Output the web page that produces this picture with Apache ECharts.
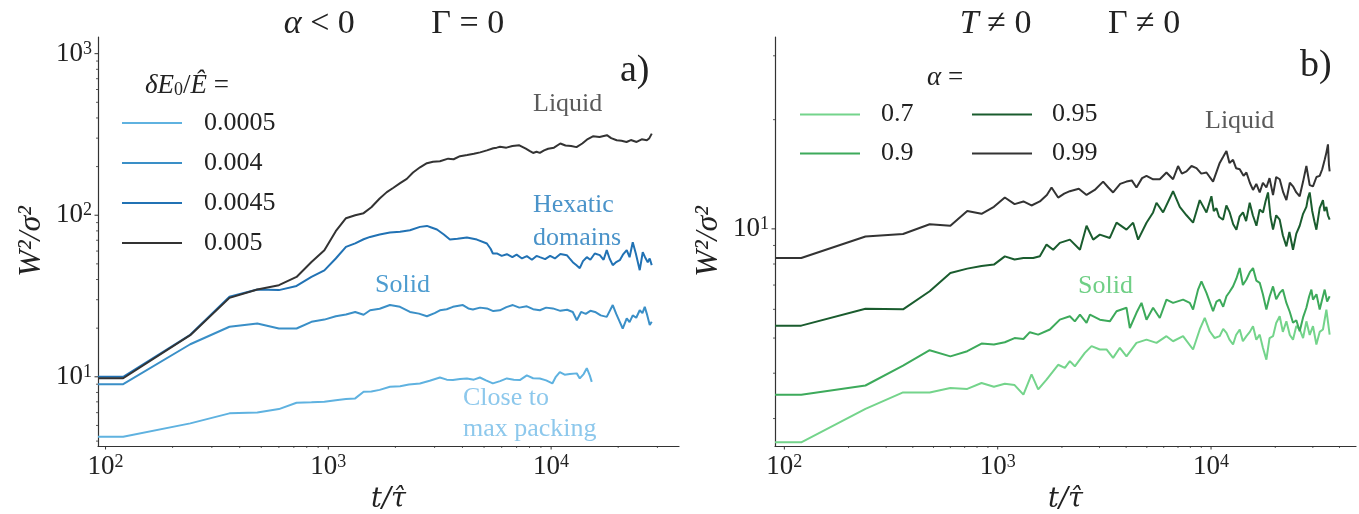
<!DOCTYPE html>
<html>
<head>
<meta charset="utf-8">
<script src="https://cdn.jsdelivr.net/npm/echarts@6/dist/echarts.min.js"></script>
<style>
  html, body { margin: 0; padding: 0; background: #fff; }
  #chart { width: 1359px; height: 514px; }
</style>
</head>
<body>
<div id="chart"></div>
<script>
var serif = '"Liberation Serif", "DejaVu Serif", serif'

// panel a) alpha < 0, Gamma = 0 : [t, W^2/sigma^2]
var namesA = ['0.0005', '0.004', '0.0045', '0.005']
var closePacking = [[92.5,4.26],[120,4.26],[240,5.15],[360,5.94],[480,6.02],[600,6.31],[720,6.91],[840,6.95],[960,7.0],[1080,7.15],[1200,7.28],[1320,7.35],[1440,8.08],[1560,8.1],[1700,8.3],[1891,8.67],[2100,8.75],[2300,8.95],[2577,9.1],[2850,9.45],[3169,9.9],[3400,9.6],[3624,9.54],[3900,9.7],[4188,9.77],[4500,9.6],[4790,9.9],[5100,9.5],[5477,9.1],[5900,9.4],[6328,9.77],[6800,9.6],[7237,9.54],[7780,10.2],[8300,9.8],[8899,9.77],[9500,9.5],[10130,9.1],[10500,10.0],[10940,10.7],[11500,10.3],[12130,10.4],[13040,10.5],[13450,9.77],[14000,10.4],[14460,11.3],[14910,10.2],[15220,9.3]]
var solidA = [[92.5,9.0],[120,9.0],[240,15.9],[360,20.4],[480,21.4],[600,19.9],[720,19.9],[840,21.9],[960,22.6],[1080,23.7],[1200,24.3],[1320,25.2],[1440,24.2],[1540,25.8],[1700,26.4],[1890,27.8],[2097,27.1],[2325,25.2],[2550,24.6],[2771,23.7],[3000,24.8],[3169,25.8],[3400,26.2],[3624,27.1],[4018,27.8],[4250,26.5],[4456,26.1],[4800,26.8],[5149,26.5],[5500,25.5],[5888,25.8],[6300,27.0],[6733,27.8],[7200,26.8],[7780,27.3],[8300,26.2],[8899,25.8],[9500,26.8],[10180,26.5],[11000,25.6],[11800,26.0],[12510,25.2],[13040,22.4],[13630,25.2],[14300,24.5],[15000,25.6],[15750,25.2],[16700,24.0],[17770,23.5],[18910,27.8],[19600,24.5],[20330,21.9],[20960,19.9],[21850,23.0],[22500,21.8],[23250,24.0],[24100,23.2],[24990,25.8],[25700,24.8],[26320,27.1],[26860,24.7],[27710,20.9],[28290,21.9]]
var hexatic = [[92.5,10.0],[120,10.0],[240,18.2],[360,31.3],[480,34.7],[600,34.4],[720,36.5],[840,41.5],[960,45.6],[1080,54],[1200,63.7],[1320,67],[1440,71],[1540,73.4],[1700,76],[1890,78.2],[2100,79],[2325,80.8],[2577,84.7],[2771,85.9],[2900,84],[3073,81.6],[3300,76],[3513,70.7],[3800,71.5],[4188,72.8],[4644,70.7],[5149,66.8],[5350,62],[5477,58.0],[5708,58.0],[6000,56],[6328,57.4],[6700,55],[7000,57],[7400,54],[7780,55.8],[8200,53],[8600,56],[8899,55.0],[9400,53.5],[9900,56],[10400,54],[11000,57.5],[11760,56.6],[12100,54],[12510,51.2],[13000,49],[13450,47.0],[13900,52],[14460,55.0],[15000,53],[15700,58],[16540,56.6],[17200,53],[17770,60.8],[18300,54],[18910,49.1],[19500,51],[20330,52.7],[21000,57],[21850,60.8],[22500,55],[23250,68.1],[24000,58],[24990,45.7],[25780,59.0],[26400,55],[27150,51.2],[27700,54],[28290,49.1]]
var liquidA = [[92.5,9.8],[120,9.8],[240,18.1],[360,30.8],[480,34.7],[600,36.9],[720,41.5],[840,51.4],[960,60.8],[1080,79.6],[1200,95.8],[1320,100],[1440,103],[1560,112],[1700,127],[1830,139],[1960,148],[2100,158],[2250,168],[2400,184],[2580,198],[2770,210],[2950,214],[3170,216],[3450,224],[3650,222],[3900,232],[4200,236],[4500,240],[4800,245],[5150,252],[5500,260],[5700,262],[5900,265],[6300,262],[6700,268],[7200,271],[7700,258],[8000,250],[8300,243],[8600,247],[8900,243],[9300,252],[9700,258],[10300,262],[11000,278],[11600,270],[12300,268],[13000,264],[13800,278],[14600,296],[15400,308],[16500,305],[17800,313],[18600,300],[19700,291],[20700,289],[21800,284],[22800,292],[24200,284],[25500,295],[26900,291],[27600,300],[28300,320]]

// panel b) T != 0, Gamma != 0
var namesB = ['0.7', '0.9', '0.95', '0.99']
var alpha07 = [[90.4,2.58],[120,2.58],[240,3.19],[360,3.54],[480,3.54],[600,3.64],[720,3.62],[840,3.76],[960,3.67],[1080,3.74],[1200,3.71],[1320,3.49],[1441,3.97],[1548,3.61],[1694,3.84],[1920,4.22],[2064,4.14],[2179,4.32],[2299,4.18],[2561,4.55],[2754,4.75],[3011,4.65],[3236,4.65],[3475,4.41],[3737,4.70],[4015,4.45],[4472,4.85],[4983,4.95],[5550,4.85],[6181,5.06],[6637,4.90],[7393,5.06],[8236,4.65],[8852,5.28],[9343,5.68],[9860,5.22],[10400,5.0],[10980,5.06],[11400,5.3],[11810,5.17],[12200,4.95],[12680,4.80],[13100,5.1],[13630,5.28],[14100,4.9],[14650,5.06],[15200,5.2],[15730,5.39],[16300,4.95],[16910,5.11],[17500,4.7],[18170,4.36],[18800,5.0],[19520,5.06],[20200,5.5],[20980,5.74],[21700,5.2],[22550,5.56],[23400,5.1],[24220,4.95],[25100,5.4],[26030,5.28],[27000,5.0],[27980,5.56],[29000,5.1],[30050,5.39],[31170,4.80],[32300,5.2],[33460,5.28],[34720,5.99],[35970,5.11]]
var alpha09 = [[90.4,3.49],[120,3.49],[240,3.70],[360,4.20],[480,4.63],[600,4.45],[720,4.60],[840,4.83],[960,4.80],[1080,4.87],[1200,5.00],[1320,4.97],[1415,5.19],[1548,5.11],[1756,5.28],[1956,5.62],[2179,5.74],[2299,5.56],[2430,5.80],[2609,5.51],[2706,5.80],[3011,5.62],[3354,5.56],[3606,5.93],[4015,6.06],[4163,5.33],[4472,5.87],[4721,6.25],[4983,5.62],[5350,6.06],[5751,5.68],[6181,6.38],[6637,6.25],[7393,6.38],[7950,6.25],[8236,5.99],[8691,6.80],[9016,7.17],[9517,6.66],[10220,5.93],[10600,6.3],[10980,6.38],[11400,6.1],[11810,6.52],[12200,6.7],[12680,6.94],[13150,7.3],[13630,7.80],[14100,7.0],[14650,7.25],[15200,7.6],[15730,7.80],[16300,7.2],[16910,7.10],[17500,6.6],[18170,5.99],[18800,6.5],[19520,6.94],[20200,6.4],[20980,6.66],[21700,6.8],[22550,6.25],[23400,5.9],[24220,5.51],[25100,5.6],[26030,5.22],[27000,5.7],[27980,6.06],[28800,6.5],[29530,6.80],[30050,6.38],[31200,6.6],[32300,5.99],[33200,6.4],[34090,6.80],[35000,6.3],[35970,6.52]]
var alpha095 = [[90.4,5.41],[120,5.41],[240,6.02],[360,6.0],[480,6.73],[600,7.56],[720,7.77],[840,7.9],[960,7.97],[1080,8.40],[1200,8.23],[1320,8.31],[1467,8.31],[1576,8.40],[1694,9.05],[1820,8.76],[1956,9.15],[2179,9.34],[2430,8.76],[2609,10.2],[2802,9.34],[3011,9.64],[3354,9.44],[3606,10.4],[4015,9.95],[4313,10.4],[4552,9.34],[4983,10.4],[5350,11.1],[5550,11.8],[5960,11.1],[6637,12.7],[7135,11.5],[7672,10.9],[8236,10.4],[8852,12.0],[9517,11.1],[10040,12.3],[10300,11.2],[10600,11.4],[10900,10.8],[11380,10.6],[11800,11.6],[12230,11.1],[12700,10.3],[13150,9.95],[13600,10.8],[14120,11.1],[14600,10.5],[15180,11.8],[15700,10.9],[16320,10.2],[16900,11.3],[17520,11.1],[18000,11.9],[18490,12.6],[19000,10.8],[19520,9.95],[20200,10.9],[20980,10.6],[21700,9.6],[22550,8.95],[23300,9.8],[24220,8.76],[25100,9.7],[26030,10.2],[27000,11.0],[27980,11.5],[28500,12.2],[29000,12.6],[29800,11.2],[30500,10.5],[31170,9.95],[32300,11.4],[33460,12.0],[34000,11.2],[34720,11.5],[35300,10.9],[35970,10.6]]
var alpha099 = [[90.4,8.31],[120,8.31],[240,9.53],[360,9.68],[480,10.3],[600,10.2],[720,11.2],[840,11.0],[960,11.5],[1080,12.2],[1200,11.7],[1320,11.9],[1440,11.6],[1576,11.9],[1700,12.4],[1788,13.0],[1920,12.2],[2050,12.5],[2179,12.7],[2400,12.9],[2609,12.4],[2850,12.8],[3120,13.5],[3300,13.0],[3475,12.6],[3750,13.3],[4015,13.5],[4250,13.6],[4472,13.0],[4750,13.8],[4983,14.0],[5350,13.7],[5751,13.7],[6181,14.3],[6637,13.7],[7005,14.9],[7300,14.2],[7672,14.4],[8100,14.9],[8543,14.7],[9000,14.2],[9517,14.3],[10220,13.5],[10980,15.2],[11400,15.8],[11810,16.4],[12200,15.2],[12680,15.5],[13100,14.7],[13630,14.6],[14200,14.0],[14650,14.3],[15200,13.4],[15730,12.8],[16300,13.3],[16910,12.6],[17500,13.4],[18170,13.0],[18800,13.8],[19520,12.4],[20200,13.9],[20980,13.7],[21800,12.6],[22550,12.0],[23400,13.4],[24220,13.1],[25100,12.6],[26030,12.3],[27000,13.5],[27980,14.9],[29000,13.2],[30050,13.1],[31200,13.9],[32300,14.0],[33200,14.6],[34090,15.5],[34700,16.2],[35320,17.1],[35700,15.0],[35970,14.4]]

// axes
var rangeA = { xMin: 92.5, xMax: 37500, yMin: 3.73, yMax: 1268 }
var rangeB = { xMin: 90.4, xMax: 47800, yMin: 2.52, yMax: 33.8 }
var xMajor = [100, 1000, 10000]
var yMajorA = [10, 100, 1000]
var yMajorB = [10]
var decades = [1, 10, 100, 1000, 10000]
var minorSteps = [2, 3, 4, 5, 6, 7, 8, 9]

var colorsA = ['#5fb2e0', '#3a8fc7', '#2172b4', '#333333']
var colorsB = ['#74d48b', '#3daa5b', '#1a5c2e', '#333333']

// tick marks as [x, y, 0 = x tick | 1 = y tick, major]
function tickData(r, yMajor) {
  var out = []
  xMajor.forEach(function (v) { out.push([v, r.yMin, 0, 1]) })
  yMajor.forEach(function (v) { out.push([r.xMin, v, 1, 1]) })
  decades.forEach(function (d) {
    minorSteps.forEach(function (m) {
      var v = d * m
      if (v > r.xMin && v < r.xMax) out.push([v, r.yMin, 0, 0])
      if (v > r.yMin && v < r.yMax) out.push([r.xMin, v, 1, 0])
    })
  })
  return out
}

var powRich = {
  b: { fontFamily: serif, fontSize: 27, fill: '#222' },
  s: { fontFamily: serif, fontSize: 18, fill: '#222', verticalAlign: 'top' }
}

function renderTick(params, api) {
  var p = api.coord([api.value(0), api.value(1)])
  var isX = api.value(2) === 0
  var major = api.value(3) === 1
  var len = major ? 3.5 : 2
  var shape = isX
    ? { x1: p[0], y1: p[1], x2: p[0], y2: p[1] + len }
    : { x1: p[0], y1: p[1], x2: p[0] - len, y2: p[1] }
  var children = [{ type: 'line', shape: shape, style: { stroke: '#333', lineWidth: major ? 1 : 0.8 } }]
  if (major) {
    var exp = Math.round(Math.log10(api.value(isX ? 0 : 1)))
    children.push({
      type: 'text',
      x: isX ? p[0] : p[0] - 6,
      y: isX ? p[1] + 7 : p[1],
      style: {
        text: '{b|10}{s|' + exp + '}',
        rich: powRich,
        align: isX ? 'center' : 'right',
        verticalAlign: isX ? 'top' : 'middle'
      }
    })
  }
  return { type: 'group', children: children }
}

function logAxis(r, isX, gridIndex) {
  return {
    type: 'log',
    logBase: 10,
    gridIndex: gridIndex,
    min: isX ? r.xMin : r.yMin,
    max: isX ? r.xMax : r.yMax,
    axisLine: { show: true, lineStyle: { color: '#333', width: 1.2 } },
    axisTick: { show: false },
    axisLabel: { show: false },
    splitLine: { show: false },
    name: isX ? 't/τ̂' : 'W²/σ²',
    nameLocation: 'middle',
    nameGap: isX ? 40 : 50,
    nameTextStyle: isX
      ? { fontFamily: '"DejaVu Serif", serif', fontSize: 27, fontStyle: 'italic', color: '#222' }
      : { fontFamily: serif, fontSize: 32, fontStyle: 'italic', color: '#222' }
  }
}

function lineSeries(name, data, color, axisIndex) {
  return {
    name: name,
    type: 'line',
    data: data,
    xAxisIndex: axisIndex,
    yAxisIndex: axisIndex,
    symbol: 'none',
    showSymbol: false,
    lineStyle: { color: color, width: 2 },
    itemStyle: { color: color },
    animation: false
  }
}

function legendBox(data, left, top, rowH, pad) {
  return {
    data: data,
    orient: 'vertical',
    left: left,
    top: top,
    padding: 0,
    itemGap: 0,
    icon: 'rect',
    itemWidth: 60,
    itemHeight: 2,
    selectedMode: false,
    textStyle: { fontFamily: serif, fontSize: 26, color: '#222', lineHeight: rowH, padding: [0, 0, 0, pad] }
  }
}

// annotation text, drawn as rich text so the serif family sticks
function note(lines, x, y, color, size, lh) {
  return {
    type: 'text', left: x, top: y,
    style: {
      text: lines.map(function (s) { return '{t|' + s + '}' }).join('\n'),
      rich: { t: { fontFamily: serif, fontSize: size || 26, fill: color, lineHeight: lh || 30 } }
    }
  }
}

var chart = echarts.init(document.getElementById('chart'))
var seriesA = [closePacking, solidA, hexatic, liquidA]
var seriesB = [alpha07, alpha09, alpha095, alpha099]

var series = []
seriesA.forEach(function (d, i) { series.push(lineSeries(namesA[i], d, colorsA[i], 0)) })
seriesB.forEach(function (d, i) { series.push(lineSeries(namesB[i], d, colorsB[i], 1)) })
series.push({ type: 'custom', xAxisIndex: 0, yAxisIndex: 0, data: tickData(rangeA, yMajorA), renderItem: renderTick, silent: true, clip: false, animation: false })
series.push({ type: 'custom', xAxisIndex: 1, yAxisIndex: 1, data: tickData(rangeB, yMajorB), renderItem: renderTick, silent: true, clip: false, animation: false })

var titleRich = { i: { fontFamily: serif, fontSize: 34, fontStyle: 'italic', color: '#222' } }

chart.setOption({
  animation: false,
  backgroundColor: '#fff',
  title: [
    { text: '{i|α} < 0         Γ = 0', left: 389, top: 2, textAlign: 'center',
      textStyle: { fontFamily: serif, fontSize: 34, fontWeight: 'normal', color: '#222', rich: titleRich } },
    { text: '{i|T} ≠ 0         Γ ≠ 0', left: 1065, top: 2, textAlign: 'center',
      textStyle: { fontFamily: serif, fontSize: 34, fontWeight: 'normal', color: '#222', rich: titleRich } }
  ],
  grid: [
    { left: 98, right: 680, top: 37, bottom: 68, outerBoundsMode: 'none' },
    { left: 775, right: 3, top: 37, bottom: 68, outerBoundsMode: 'none' }
  ],
  xAxis: [logAxis(rangeA, true, 0), logAxis(rangeB, true, 1)],
  yAxis: [logAxis(rangeA, false, 0), logAxis(rangeB, false, 1)],
  legend: [
    legendBox(namesA, 122, 103, 40, 17),
    legendBox(namesB.slice(0, 2), 800, 95, 39, 16),
    legendBox(namesB.slice(2), 972, 95, 39, 15)
  ],
  graphic: [
    {
      type: 'text', left: 145, top: 72,
      style: {
        text: '{i|δE}{sub|0}{n|/}{i|Ê}{n| =}',
        rich: {
          i: { fontFamily: serif, fontSize: 27, fontStyle: 'italic', fill: '#222' },
          n: { fontFamily: serif, fontSize: 27, fill: '#222' },
          sub: { fontFamily: serif, fontSize: 18, fill: '#222', verticalAlign: 'bottom' }
        }
      }
    },
    {
      type: 'text', left: 927, top: 64,
      style: {
        text: '{i|α}{n| =}',
        rich: {
          i: { fontFamily: serif, fontSize: 27, fontStyle: 'italic', fill: '#222' },
          n: { fontFamily: serif, fontSize: 27, fill: '#222' }
        }
      }
    },
    note(['Liquid'], 533, 91, '#5a5a5a'),
    note(['Hexatic', 'domains'], 533, 192, '#4a93c9', 26, 33),
    note(['Solid'], 375, 272, '#4d9cd0'),
    note(['Close to', 'max packing'], 463, 385, '#8dc8ec', 26, 31),
    note(['a)'], 620, 52, '#222', 38, 40),
    note(['Liquid'], 1205, 108, '#5a5a5a'),
    note(['Solid'], 1078, 273, '#6fcf85'),
    note(['b)'], 1300, 47, '#222', 38, 40)
  ],
  series: series
})
</script>
</body>
</html>
